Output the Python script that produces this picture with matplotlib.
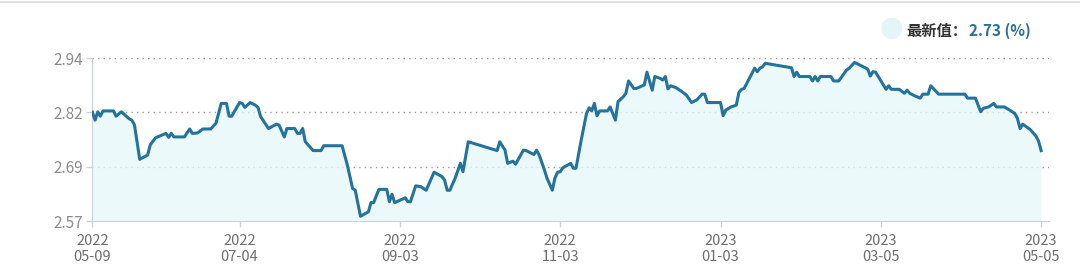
import matplotlib
matplotlib.use("Agg")
import matplotlib.pyplot as plt
import pandas as pd
from matplotlib.lines import Line2D

plt.rcParams['font.family'] = ['Noto Sans CJK SC', 'DejaVu Sans']

# data: days after 2022-05-09 and yield (%)
start = pd.Timestamp("2022-05-09")
day_offsets = [
    0, 1, 2, 3, 4, 8, 9, 11, 14, 15, 16, 18, 21, 22, 24, 28, 29, 30, 31, 35,
    37, 38, 40, 42, 45, 47, 49, 51, 52, 53, 56, 57, 58, 60, 62, 63, 64, 67, 70, 71,
    73, 74, 77, 78, 79, 80, 81, 84, 87, 88, 95, 97, 99, 100, 102, 105, 106, 107, 109, 112,
    113, 114, 115, 118, 119, 120, 121, 123, 125, 127, 130, 133, 134, 135, 136, 138, 140, 141, 143, 154,
    155, 157, 158, 160, 161, 164, 165, 168, 169, 170, 172, 173, 175, 176, 177, 178, 179, 182, 183, 184,
    186, 188, 189, 190, 191, 192, 193, 196, 197, 198, 199, 200, 202, 203, 204, 206, 207, 210, 211, 213,
    214, 216, 217, 218, 219, 220, 222, 224, 226, 228, 230, 232, 233, 234, 239, 240, 241, 243, 245, 246,
    247, 248, 250, 252, 253, 254, 255, 256, 266, 267, 268, 269, 273, 274, 275, 276, 277, 281, 282, 284,
    287, 288, 290, 295, 296, 297, 298, 302, 303, 304, 307, 309, 310, 311, 313, 315, 316, 318, 319, 322,
    332, 333, 336, 338, 339, 341, 343, 344, 347, 349, 351, 352, 353, 354, 357, 359, 360, 361,
]
yields = [
    2.817, 2.799, 2.818, 2.808, 2.820, 2.820, 2.808, 2.818, 2.802, 2.799, 2.788, 2.710, 2.720, 2.743, 2.759, 2.769, 2.760, 2.769, 2.761, 2.761,
    2.779, 2.769, 2.770, 2.779, 2.779, 2.792, 2.837, 2.837, 2.808, 2.808, 2.839, 2.837, 2.828, 2.839, 2.833, 2.828, 2.807, 2.780, 2.790, 2.788,
    2.761, 2.780, 2.780, 2.769, 2.769, 2.780, 2.750, 2.730, 2.730, 2.741, 2.741, 2.697, 2.644, 2.640, 2.581, 2.591, 2.612, 2.612, 2.642, 2.642,
    2.614, 2.631, 2.612, 2.620, 2.623, 2.614, 2.614, 2.650, 2.648, 2.640, 2.681, 2.671, 2.663, 2.640, 2.640, 2.667, 2.701, 2.682, 2.750, 2.730,
    2.750, 2.731, 2.701, 2.706, 2.699, 2.731, 2.730, 2.721, 2.731, 2.720, 2.686, 2.667, 2.640, 2.668, 2.681, 2.682, 2.691, 2.701, 2.690, 2.690,
    2.754, 2.814, 2.827, 2.820, 2.837, 2.809, 2.820, 2.820, 2.829, 2.814, 2.799, 2.841, 2.852, 2.860, 2.888, 2.871, 2.871, 2.879, 2.908, 2.867,
    2.898, 2.894, 2.890, 2.898, 2.870, 2.877, 2.873, 2.865, 2.856, 2.839, 2.845, 2.858, 2.858, 2.839, 2.839, 2.809, 2.822, 2.829, 2.833, 2.862,
    2.869, 2.871, 2.894, 2.917, 2.909, 2.917, 2.920, 2.928, 2.918, 2.898, 2.908, 2.898, 2.898, 2.888, 2.898, 2.888, 2.898, 2.898, 2.888, 2.888,
    2.913, 2.917, 2.930, 2.915, 2.899, 2.909, 2.908, 2.869, 2.877, 2.869, 2.869, 2.860, 2.867, 2.860, 2.854, 2.849, 2.858, 2.858, 2.877, 2.858,
    2.858, 2.849, 2.849, 2.818, 2.826, 2.829, 2.837, 2.829, 2.829, 2.822, 2.814, 2.803, 2.780, 2.790, 2.777, 2.763, 2.752, 2.730,
]
tick_dates = ["2022-05-09", "2022-07-04", "2022-09-03", "2022-11-03", "2023-01-03", "2023-03-05", "2023-05-05"]
y_ticks = [2.57, 2.6933, 2.8167, 2.94]
y_labels = ["2.57", "2.69", "2.82", "2.94"]
latest = "2.73 (%)"

dates = start + pd.to_timedelta(day_offsets, unit="D")

fig = plt.figure(figsize=(10.8, 2.75), dpi=100)
ax = fig.add_axes([0.0856, 0.196, 0.8857, 0.593])

line_c = "#23739c"
axis_c = "#c9d2e3"

ax.fill_between(dates, yields, 2.57, color="#e6f8fa", alpha=0.75, zorder=2, linewidth=0)
ax.plot(dates, yields, color=line_c, linewidth=2.2, zorder=3)

ax.set_ylim(2.57, 2.94)
ax.set_xlim(start, start + pd.Timedelta(days=364))
ax.set_yticks(y_ticks)
ax.set_yticklabels(y_labels)
ticks = pd.to_datetime(tick_dates)
ax.set_xticks(ticks)
ax.set_xticklabels([f"{d.year}\n{d.strftime('%m-%d')}" for d in ticks], linespacing=1.25)

for yv in y_ticks[1:]:
    ax.axhline(yv, color="#9a9a9a", linestyle=(0, (1, 3)), linewidth=1.0, zorder=1)

for s in ["top", "right"]:
    ax.spines[s].set_visible(False)
ax.spines["left"].set_color(axis_c)
ax.spines["bottom"].set_color(axis_c)
ax.tick_params(axis="both", colors=axis_c, length=4, width=1)
ax.tick_params(axis="y", labelcolor="#8c8c8c", labelsize=11, pad=3)
ax.tick_params(axis="x", labelcolor="#6e6e6e", labelsize=10.5, pad=5)

# legend in top right
fig.add_artist(Line2D([0, 1], [0.993, 0.993], color="#dddddd", linewidth=1.2, transform=fig.transFigure))
fig.text(0.826, 0.888, "\u25cf", color="#e2f5f7", fontsize=17, ha="center", va="center")
fig.text(0.839, 0.888, "最新值：", color="#333333", fontsize=11, fontweight="bold", ha="left", va="center")
fig.text(0.8975, 0.888, latest, color="#2a6f98", fontsize=11, fontweight="bold", ha="left", va="center")

fig.savefig("out.png", dpi=100)
